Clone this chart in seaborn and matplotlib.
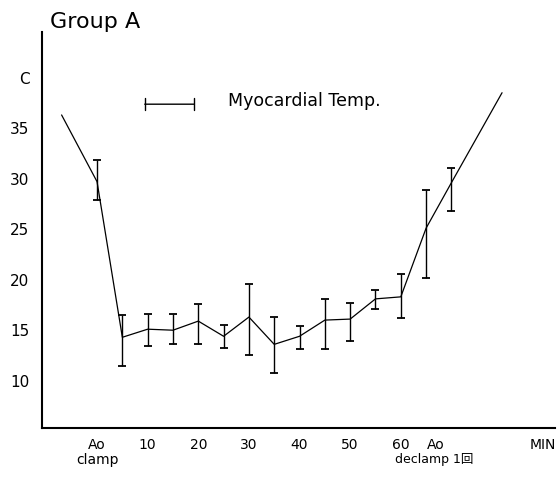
import numpy as np
import pandas as pd
import seaborn as sns
import matplotlib.pyplot as plt
import matplotlib.transforms as mtransforms

# --- dados (Group A, temperatura miocárdica) ---
minutos = [-7, 0, 5, 10, 15, 20, 25, 30, 35, 40, 45, 50, 55, 60, 65, 70, 80]
temp = [36.3, 29.7, 14.3, 15.1, 15.0, 15.9, 14.4, 16.3, 13.6, 14.4, 16.0, 16.1,
        18.1, 18.3, 25.1, 29.6, 38.5]

# pontos com barra de erro (limites inferior / superior)
erro_min = [0, 5, 10, 15, 20, 25, 30, 35, 40, 45, 50, 55, 60, 65, 70]
erro_baixo = [27.9, 11.5, 13.4, 13.6, 13.6, 13.2, 12.5, 10.8, 13.1, 13.1, 13.9,
              17.1, 16.2, 20.2, 26.8]
erro_alto = [31.8, 16.5, 16.6, 16.6, 17.6, 15.5, 19.6, 16.3, 15.4, 18.1, 17.7,
             19.0, 20.6, 28.9, 31.1]

ytick_vals = [10, 15, 20, 25, 30, 35, 40]
ytick_labels = ["10", "15", "20", "25", "30", "35", "C"]
xtick_vals = [0, 10, 20, 30, 40, 50, 60, 67, 88]
xtick_labels = ["Ao\nclamp", "10", "20", "30", "40", "50", "60", "Ao", "MIN"]
declamp_x = 66.5
declamp_txt = "declamp 1回"

df = pd.DataFrame({"min": minutos, "temp": temp})

sns.set_style("white")
plt.rcParams["font.family"] = ["DejaVu Sans", "Noto Sans CJK JP"]
plt.rcParams["text.color"] = "black"
plt.rcParams["xtick.color"] = "black"
plt.rcParams["ytick.color"] = "black"

fig = plt.figure(figsize=(5.58, 4.79), dpi=100)
ax = fig.add_axes([0.075, 0.106, 0.92, 0.827])

sns.lineplot(data=df, x="min", y="temp", color="black", linewidth=0.9,
             ax=ax, sort=False)

# barras de erro assimétricas
centro = dict(zip(minutos, temp))
yc = np.array([centro[m] for m in erro_min])
yerr = [yc - np.array(erro_baixo), np.array(erro_alto) - yc]
ax.errorbar(erro_min, yc, yerr=yerr, fmt="none", ecolor="black",
            elinewidth=1.0, capsize=3, capthick=1.3)

ax.set_xlim(-10.9, 90.5)
ax.set_ylim(5.3, 44.5)
ax.set_xticks(xtick_vals)
ax.set_xticklabels(xtick_labels, fontsize=10, linespacing=1.1, va="top")
ax.set_yticks(ytick_vals)
ax.set_yticklabels(ytick_labels, fontsize=11)
ax.tick_params(axis="both", length=0, labelcolor="black")
ax.tick_params(axis="x", pad=7)
ax.tick_params(axis="y", pad=9)
ax.set_xlabel("")
ax.set_ylabel("")

# segunda linha do rótulo "Ao declamp"
trans = mtransforms.blended_transform_factory(ax.transData, ax.transAxes)
ax.text(declamp_x, -0.08, declamp_txt, transform=trans, fontsize=9,
        ha="center", va="center", color="black")

sns.despine(ax=ax)
for s in ["left", "bottom"]:
    ax.spines[s].set_linewidth(1.5)
    ax.spines[s].set_color("black")

# legenda desenhada à mão
ax.annotate("", xy=(0.195, 0.818), xytext=(0.302, 0.818), xycoords="axes fraction",
            arrowprops=dict(arrowstyle="|-|,widthA=0.45,widthB=0.45",
                            color="black", lw=1.0))
ax.text(0.363, 0.826, "Myocardial Temp.", transform=ax.transAxes,
        fontsize=12.5, va="center", ha="left", color="black")

fig.text(0.09, 0.954, "Group A", fontsize=16, va="center", ha="left",
         color="black")

plt.savefig("out.png", dpi=100)
